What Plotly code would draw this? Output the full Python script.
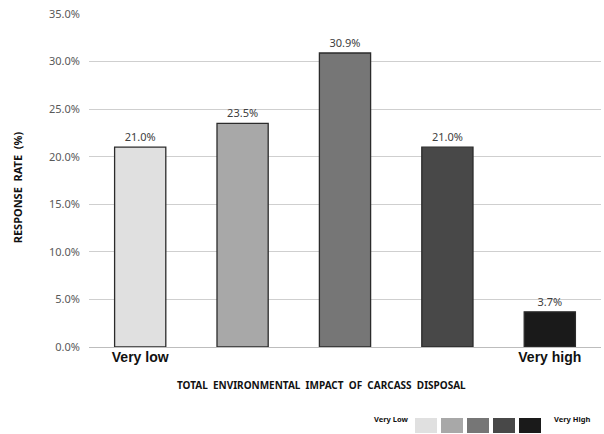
import plotly.graph_objects as go

categories = ["Very low", "Low", "Moderate", "High", "Very high"]
tick_labels = ["<b>Very low</b>", "", "", "", "<b>Very high</b>"]
response_rate = [0.210, 0.235, 0.309, 0.210, 0.037]
bar_colors = ["#e0e0e0", "#a8a8a8", "#767676", "#484848", "#1a1a1a"]
legend_levels = [0, 1, 2, 3, 4]

fig = go.Figure()

fig.add_trace(go.Bar(
    x=categories, y=response_rate, width=0.5,
    marker=dict(color=bar_colors, line=dict(color="#2b2b2b", width=1.3)),
    texttemplate="%{y:.1%}", textposition="outside",
    textfont=dict(family="Noto Sans", size=11, color="#404040"),
    cliponaxis=False, hoverinfo="skip", xaxis="x", yaxis="y",
))

n = len(bar_colors)
cscale = []
for i, c in enumerate(bar_colors):
    cscale.append([i / (n - 1), c])
fig.add_trace(go.Heatmap(
    z=[legend_levels], x=legend_levels, y=[0],
    colorscale=cscale, zmin=0, zmax=n - 1, showscale=False,
    xgap=4, ygap=0, hoverinfo="skip", xaxis="x2", yaxis="y2",
))

fig.update_layout(
    width=604, height=434,
    margin=dict(l=89, r=3, t=14, b=0, autoexpand=False),
    paper_bgcolor="white", plot_bgcolor="white",
    showlegend=False,
    bargap=0.5,
    xaxis=dict(
        domain=[0, 1], anchor="y", automargin=False,
        tickmode="array", tickvals=categories, ticktext=tick_labels,
        tickfont=dict(family="Liberation Sans", size=14, color="#111111"),
        showgrid=False, showline=False, ticks="",
    ),
    yaxis=dict(
        domain=[0.2071, 1], anchor="x", automargin=False,
        range=[0, 0.35], dtick=0.05, tickformat=".1%",
        tickfont=dict(family="Noto Sans", size=11, color="#595959"),
        gridcolor="#cfcfcf", gridwidth=1,
        zeroline=True, zerolinecolor="#bdbdbd", zerolinewidth=1,
        showline=False, ticks="", ticklabelstandoff=8,
    ),
    xaxis2=dict(
        domain=[0.6328, 0.8867], anchor="y2", automargin=False,
        range=[-0.5, 4.5], visible=False,
    ),
    yaxis2=dict(
        domain=[0.0024, 0.0381], anchor="x2", automargin=False,
        range=[-0.5, 0.5], visible=False,
    ),
    annotations=[
        dict(text="<b>RESPONSE  RATE  (%)</b>", xref="paper", yref="paper",
             x=-0.139, xanchor="center", y=0.587, yanchor="middle",
             textangle=-90, showarrow=False,
             font=dict(family="Noto Sans", size=11, color="#111111")),
        dict(text="<b>TOTAL  ENVIRONMENTAL  IMPACT  OF  CARCASS  DISPOSAL</b>",
             xref="paper", yref="paper", x=0.455, xanchor="center", y=0.096,
             showarrow=False,
             font=dict(family="Noto Sans", size=10, color="#111111")),
        dict(text="<b>Very Low</b>", xref="paper", yref="paper",
             x=0.5527, xanchor="left", y=0.0202, showarrow=False,
             font=dict(family="Noto Sans", size=7.5, color="#111111")),
        dict(text="<b>Very High</b>", xref="paper", yref="paper",
             x=0.9043, xanchor="left", y=0.0202, showarrow=False,
             font=dict(family="Noto Sans", size=7.5, color="#111111")),
    ],
)

fig.write_html("out.html", config={"displayModeBar": False},
               post_script="document.body.style.margin='0';")
